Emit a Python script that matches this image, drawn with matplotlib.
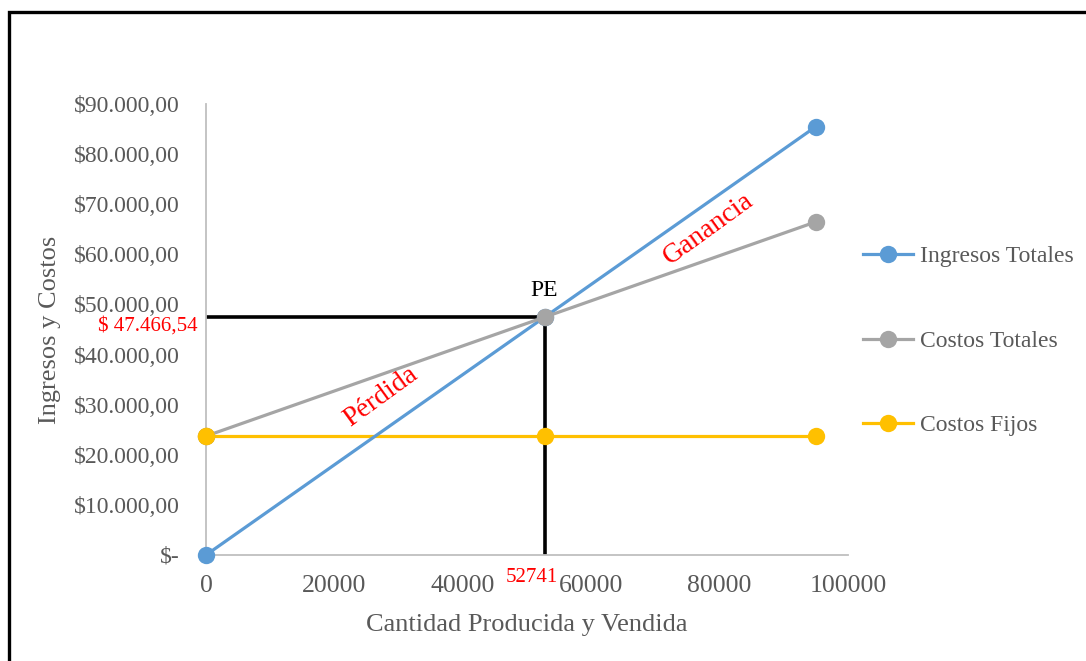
import matplotlib
matplotlib.use("Agg")
import matplotlib.pyplot as plt
from matplotlib.patches import Rectangle
from matplotlib.ticker import FuncFormatter

plt.rcParams['font.family'] = ['Liberation Serif', 'DejaVu Serif']

# Break-even data
cantidad = [0, 52741, 95000]
ingresos_totales = [0, 47466.54, 85500]
costos_totales = [23733.27, 47466.54, 66483.27]
costos_fijos = [23733.27, 23733.27, 23733.27]

pe_cantidad = 52741
pe_valor = 47466.54

W, H = 1086, 661
fig = plt.figure(figsize=(W / 100, H / 100), dpi=100)
ax = fig.add_axes([206 / W, 1 - 555 / H, (848 - 206) / W, (555 - 104) / H])

# Break-even guide lines
ax.plot([0, pe_cantidad], [pe_valor, pe_valor], color="black", lw=2.6, zorder=2,
        solid_capstyle="butt")
ax.plot([pe_cantidad, pe_cantidad], [0, pe_valor], color="black", lw=2.6, zorder=2,
        solid_capstyle="butt")

order = [("Costos Fijos", costos_fijos, "#FFC000"),
         ("Ingresos Totales", ingresos_totales, "#5B9BD5"),
         ("Costos Totales", costos_totales, "#A5A5A5")]
lines = {}
for i, (name, vals, col) in enumerate(order):
    ln, = ax.plot(cantidad, vals, color=col, lw=2.3, marker="o", markersize=12.5,
                  markeredgewidth=0, label=name, zorder=3 + i, clip_on=False)
    lines[name] = ln
# Fixed-cost marker on top at the origin
ax.plot([cantidad[0]], [costos_fijos[0]], color="#FFC000", marker="o", markersize=12.5,
        markeredgewidth=0, zorder=7, clip_on=False)

ax.set_xlim(0, 100000)
ax.set_ylim(0, 90000)
ax.set_xticks(range(0, 100001, 20000))
ax.set_yticks(range(0, 90001, 10000))


def money(v, pos):
    if v == 0:
        return "$-"
    s = f"{v:,.2f}"
    s = s.replace(",", "X").replace(".", ",").replace("X", ".")
    return "$" + s


ax.yaxis.set_major_formatter(FuncFormatter(money))
ax.tick_params(axis="both", length=0, colors="#595959")
ax.tick_params(axis="x", labelsize=18.5, pad=14.5)
ax.tick_params(axis="y", labelsize=17, pad=19)
for sp in ["top", "right"]:
    ax.spines[sp].set_visible(False)
for sp in ["left", "bottom"]:
    ax.spines[sp].set_color("#BFBFBF")
    ax.spines[sp].set_linewidth(1.3)

ax.set_xlabel("Cantidad Producida y Vendida", fontsize=19, color="#595959", labelpad=12)
ax.set_ylabel("Ingresos y Costos", fontsize=19, color="#595959", labelpad=9)

# Annotations
ax.annotate("$ 47.466,54", xy=(0, pe_valor), xytext=(-6, -6.5), textcoords="offset points",
            ha="right", va="center", color="red", fontsize=15, annotation_clip=False)
ax.annotate(str(pe_cantidad), xy=(pe_cantidad, 0), xytext=(-9, -16), textcoords="offset points",
            ha="center", va="center", color="red", fontsize=15, annotation_clip=False)
ax.annotate("PE", xy=(pe_cantidad, pe_valor), xytext=(0, 19), textcoords="offset points",
            ha="center", va="center", color="black", fontsize=17)
ax.text(27300, 31600, "Pérdida", color="red", fontsize=20, rotation=36,
        ha="center", va="center", rotation_mode="anchor")
ax.text(78300, 65000, "Ganancia", color="red", fontsize=20, rotation=36,
        ha="center", va="center", rotation_mode="anchor")

leg_handles = [lines["Ingresos Totales"], lines["Costos Totales"], lines["Costos Fijos"]]
fig.legend(handles=leg_handles, labels=[h.get_label() for h in leg_handles],
           loc="center left", bbox_to_anchor=(854 / W, 1 - 341 / H), frameon=False,
           fontsize=17, labelcolor="#595959", handlelength=2.1, handletextpad=0.3,
           labelspacing=2.66, borderaxespad=0)

# Outer frame
fig.patches.append(Rectangle((9 / W, -0.05), 1.1, 1 - 12 / H + 0.05,
                             transform=fig.transFigure, fill=False,
                             edgecolor="black", lw=2.4, clip_on=False))

fig.savefig("out.png", dpi=100)
